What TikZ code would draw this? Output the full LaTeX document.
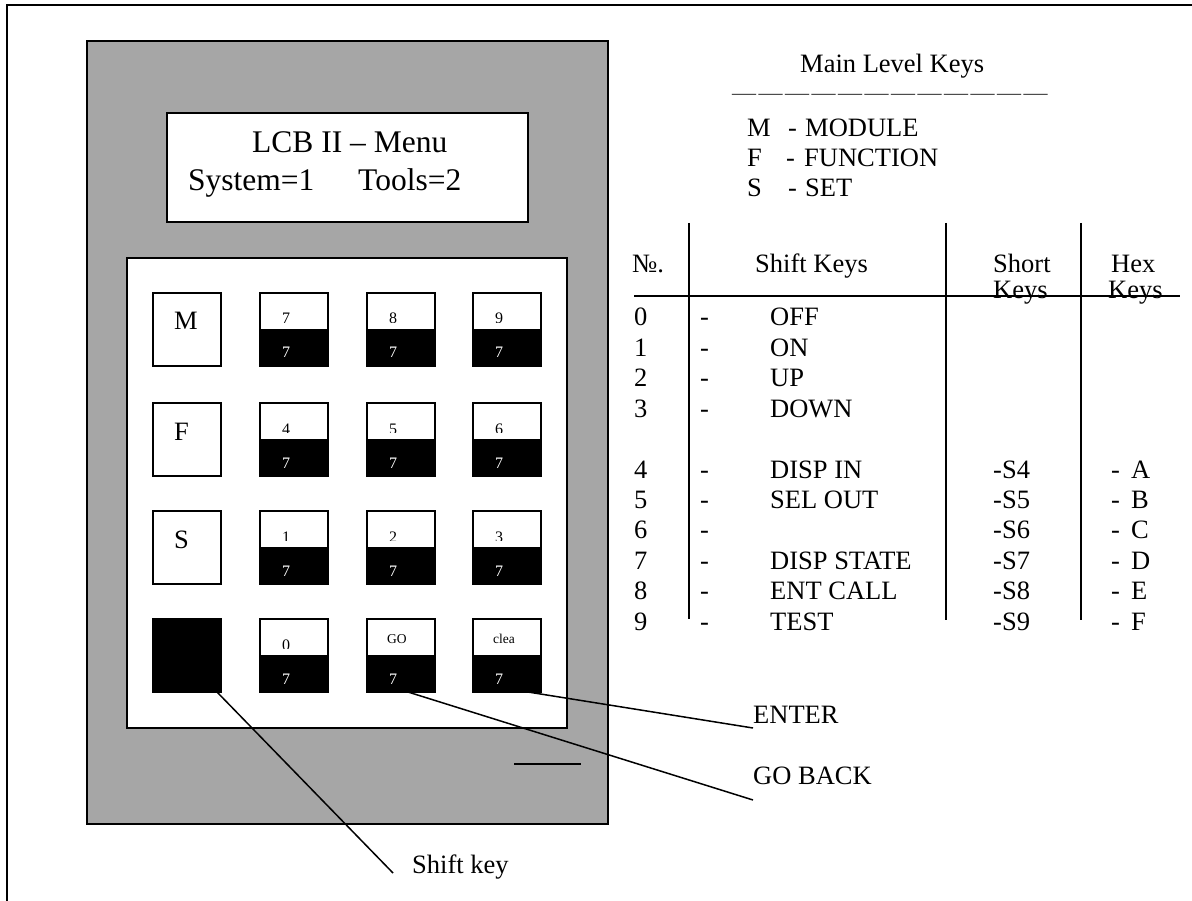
\documentclass[tikz,border=0pt]{standalone}
\usepackage{fontspec}
\setmainfont{Liberation Serif}
\usetikzlibrary{calc}
\newcommand\fs[1]{\fontsize{#1}{#1}\selectfont}
\definecolor{devgray}{RGB}{166,166,166}
% name, left x, top y, label
\newcommand\numkey[4]{%
  \node[keybox] (#1) at (#2+34,#3+36.5) {};
  \fill ([yshift=-36pt]#1.north west) rectangle (#1.south east);
  \draw[keyline] (#1.north west) rectangle (#1.south east);
  \begin{scope}
    \clip (#1.north west) rectangle ([yshift=-29.5pt]#1.north east);
    \node[small] (#1t) at ([xshift=22pt,yshift=-31pt]#1.north west) {#4};
  \end{scope}
  \node[small,text=white] (#1b) at ([xshift=22pt,yshift=-65pt]#1.north west) {7};
}
\newcommand\wordkey[4]{%
  \node[keybox] (#1) at (#2+34,#3+36.5) {};
  \fill ([yshift=-36pt]#1.north west) rectangle (#1.south east);
  \draw[keyline] (#1.north west) rectangle (#1.south east);
  \node[tiny] (#1t) at ([xshift=20pt,yshift=-24pt]#1.north west) {#4};
  \node[small,text=white] (#1b) at ([xshift=22pt,yshift=-65pt]#1.north west) {7};
}
\newcommand\letterkey[4]{%
  \node[keybox] (#1) at (#2+34,#3+36.5) {};
  \node[lbl] (#1t) at ([xshift=21pt,yshift=-37pt]#1.north west) {#4};
}
\newcommand\dsh{—\kern2.5pt}
\begin{document}
\begin{tikzpicture}[x=1pt,y=-1pt,
  frameline/.style={line width=1.6pt},
  keyline/.style={line width=1.4pt},
  keybox/.style={draw,line width=1.4pt,fill=white,minimum width=68pt,minimum height=73pt,inner sep=0pt,outer sep=0pt},
  lbl/.style={anchor=base west,inner sep=0pt,font=\fs{26.5}},
  disp/.style={anchor=base west,inner sep=0pt,font=\fs{31.5}},
  small/.style={anchor=base west,inner sep=0pt,font=\fs{16}},
  tiny/.style={anchor=base west,inner sep=0pt,font=\fs{13.5}},
  leader/.style={line width=1.5pt},
  rule/.style={line width=1.5pt}]
\useasboundingbox (0,0) rectangle (1192,901);
\fill[white] (0,0) rectangle (1192,901);
% outer frame (top and left visible)
\draw[frameline] (7,901) -- (7,5) -- (1192,5);

% device body
\draw[frameline,fill=devgray] (87,41) rectangle (608,824);
% display
\node[draw,line width=1.4pt,fill=white,minimum width=361pt,minimum height=109pt,inner sep=0pt,outer sep=0pt] (display) at (347.5,167.5) {};
\node[disp] (title) at (252,153) {LCB II – Menu};
\node[disp] (sys) at (188,191) {System=1};
\node[disp] (tools) at (358,191) {Tools=2};
% keypad
\node[draw,line width=1.4pt,fill=white,minimum width=440pt,minimum height=470pt,inner sep=0pt,outer sep=0pt] (pad) at (347,493) {};
% small line
\draw[rule] (514,764) -- (581,764);

% keys
\letterkey{kM}{153}{293}{M}
\letterkey{kF}{153}{403}{F}
\letterkey{kS}{153}{511}{S}
\node[draw,line width=1.4pt,fill=black,minimum width=68pt,minimum height=73pt,inner sep=0pt,outer sep=0pt] (kshift) at (187,655.5) {};
\numkey{k7}{260}{293}{7}
\numkey{k8}{367}{293}{8}
\numkey{k9}{473}{293}{9}
\numkey{k4}{260}{403}{4}
\numkey{k5}{367}{403}{5}
\numkey{k6}{473}{403}{6}
\numkey{k1}{260}{511}{1}
\numkey{k2}{367}{511}{2}
\numkey{k3}{473}{511}{3}
\numkey{k0}{260}{619}{0}
\wordkey{kgo}{367}{619}{GO}
\wordkey{kclea}{473}{619}{clea}

% leader labels
\node[lbl] (enter) at (753,723) {ENTER};
\node[lbl] (goback) at (753,784) {GO BACK};
\node[lbl] (shiftlbl) at (412,873) {Shift key};
\draw[leader] ([xshift=-13pt]kclea.south east) -- ([yshift=-5pt]enter.base west);
\draw[leader] ([xshift=7pt]kgo.south) -- ([yshift=-16pt]goback.base west);
\draw[leader] ([xshift=-4pt]kshift.south east) -- ([xshift=-19pt]shiftlbl.base west);

% main level keys
\node[lbl] (mlk) at (800,73) {Main Level Keys};
\node[anchor=base west,inner sep=0pt,font=\fs{24},text=black!70] (dashes) at (732,101) {\dsh\dsh\dsh\dsh\dsh\dsh\dsh\dsh\dsh\dsh\dsh—};
\node[lbl] (mM) at (747,137) {M};
\node[lbl] (mMd) at (788,137) {-};
\node[lbl] (mMt) at (805,137) {MODULE};
\node[lbl] (mF) at (747,167) {F};
\node[lbl] (mFd) at (786,167) {-};
\node[lbl] (mFt) at (804,167) {FUNCTION};
\node[lbl] (mS) at (747,197) {S};
\node[lbl] (mSd) at (788,197) {-};
\node[lbl] (mSt) at (805,197) {SET};

% table
\node[lbl] (hno) at (632,273) {№.};
\node[lbl] (hshift) at (755,273) {Shift Keys};
\node[lbl] (hshort) at (993,273) {Short};
\node[lbl] (hshort2) at (993,299) {Keys};
\node[lbl] (hhex) at (1111,273) {Hex};
\node[lbl] (hhex2) at (1108,299) {Keys};
\draw[rule] (634,296) -- (1180,296);
\draw[rule] (689,223) -- (689,619);
\draw[rule] (946,223) -- (946,620);
\draw[rule] (1081,223) -- (1081,620);
\foreach \n/\nm/\y in {0/OFF/326,1/ON/356.4,2/UP/386.8,3/DOWN/417.2,4/DISP IN/478,5/SEL OUT/508.4,6/{}/538.8,7/DISP STATE/569.2,8/ENT CALL/599.6,9/TEST/630}{
  \node[lbl] (rn\n) at (634,\y) {\n};
  \node[lbl] (rd\n) at (700,\y) {-};
  \node[lbl] (rt\n) at (770,\y) {\nm};
}
\foreach \n/\h/\y in {4/A/478,5/B/508.4,6/C/538.8,7/D/569.2,8/E/599.6,9/F/630}{
  \node[lbl] (rs\n) at (993,\y) {-S\n};
  \node[lbl] (rhd\n) at (1111,\y) {-};
  \node[lbl] (rh\n) at (1131,\y) {\h};
}
\end{tikzpicture}
\end{document}
